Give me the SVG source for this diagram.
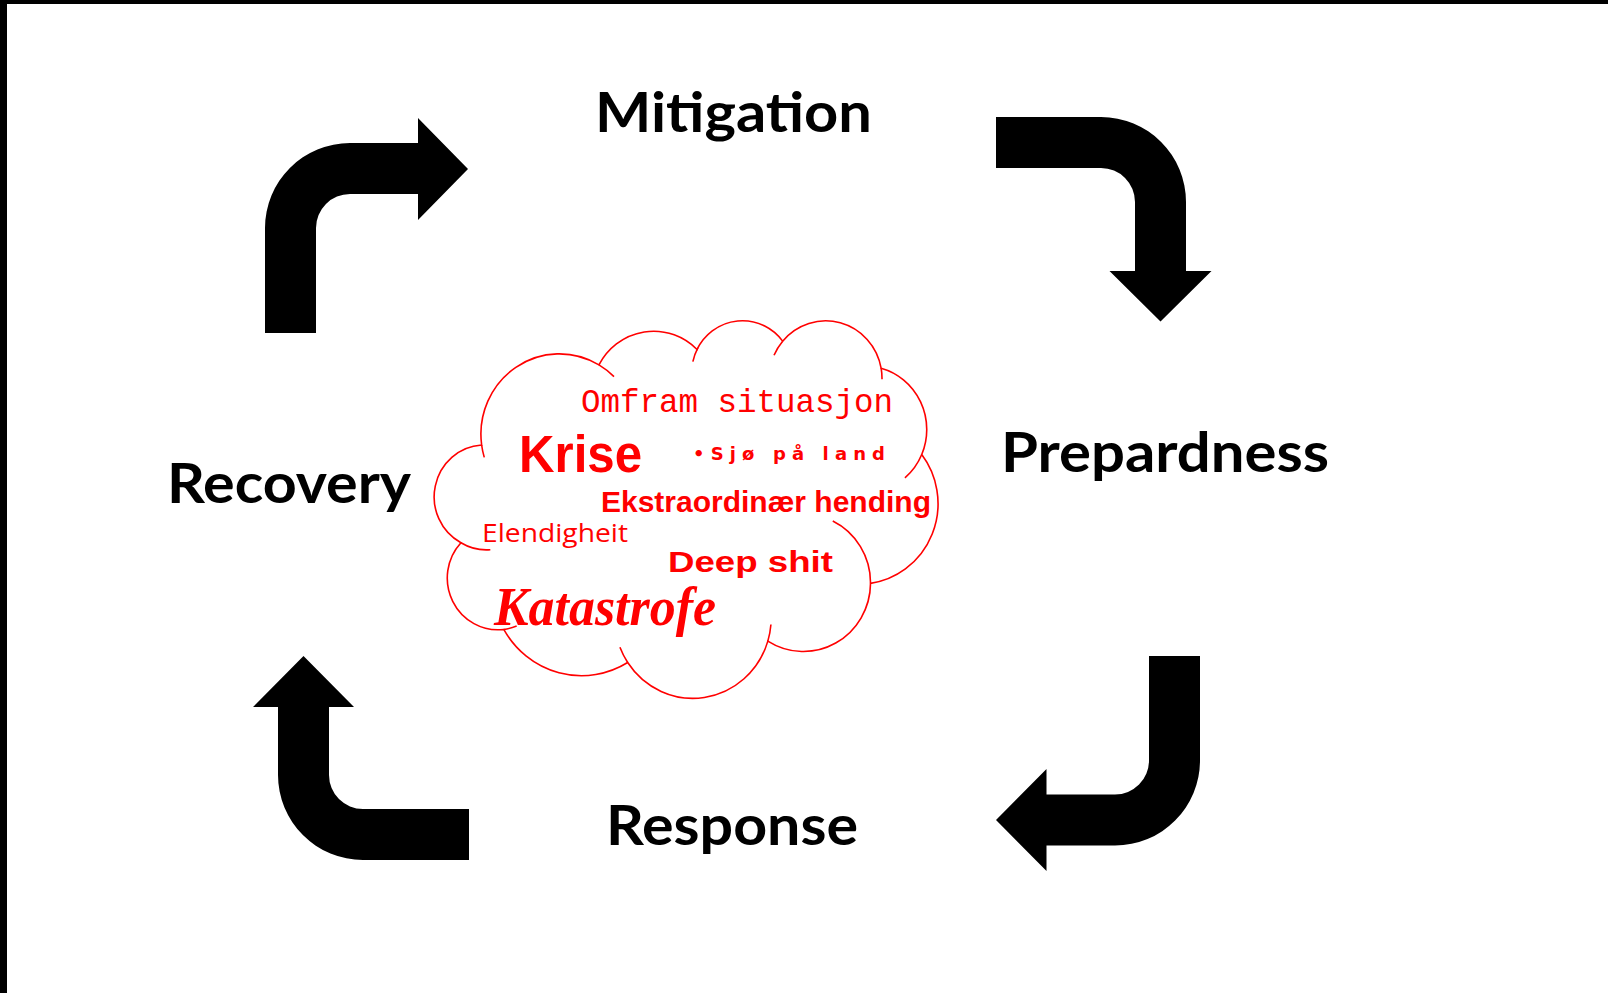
<svg xmlns="http://www.w3.org/2000/svg" width="1608" height="993" viewBox="0 0 1608 993">
<style>
.lbl{font-family:Lato,"Open Sans","Liberation Sans",sans-serif;font-weight:700;font-size:56px;fill:#000}
.arrow{fill:#000;stroke:none}
.cl{fill:none;stroke:#ff0000;stroke-width:1.6;vector-effect:non-scaling-stroke}
.red{fill:#ff0000}
</style>
<rect x="0" y="0" width="1608" height="993" fill="#fff"/>
<rect x="0" y="0" width="1608" height="4" fill="#000"/>
<rect x="0" y="0" width="7" height="993" fill="#000"/>

<g id="connectors">
  <path class="arrow" d="M265,333 L265,228 A85,85 0 0 1 350,143 L418,143 L418,118 L468,169 L418,220 L418,194 L350,194 A34,34 0 0 0 316,228 L316,333 Z"/>
  <path class="arrow" d="M996,117 L1101,117 A85,85 0 0 1 1186,202 L1186,271 L1211.5,271 L1160.5,321.5 L1109.5,271 L1135,271 L1135,202 A34,34 0 0 0 1101,168 L996,168 Z"/>
  <path class="arrow" d="M1149,656 L1200,656 L1200,760.5 A85,85 0 0 1 1115,845.5 L1046.5,845.5 L1046.5,871 L996,820 L1046.5,769 L1046.5,794.5 L1115,794.5 A34,34 0 0 0 1149,760.5 Z"/>
  <path class="arrow" d="M469,860 L363,860 A85,85 0 0 1 278,775 L278,707 L253,707 L303.5,656 L354,707 L329,707 L329,775 A34,34 0 0 0 363,809 L469,809 Z"/>
</g>

<g id="mitigation"><text class="lbl" x="595" y="131.7" textLength="277" lengthAdjust="spacingAndGlyphs">Mitigation</text></g>
<g id="preparedness"><text class="lbl" x="1001" y="471.7" textLength="328" lengthAdjust="spacingAndGlyphs">Prepardness</text></g>
<g id="recovery"><text class="lbl" x="167" y="503.3" textLength="244" lengthAdjust="spacingAndGlyphs">Recovery</text></g>
<g id="response"><text class="lbl" x="606" y="845" textLength="252" lengthAdjust="spacingAndGlyphs">Response</text></g>

<g id="cloud">
  <g transform="translate(436.37,319.46) scale(0.011606,0.008737)">
    <path d="M3900,14370 A6753,9190 0 0 1 14007.8,5203.6 A5333,7267 0 0 1 22459.3,3433.0 A4365,5945 0 0 1 29836.1,2481.3 A4857,6595 0 0 1 38320.5,5578.0 A5333,7273 0 0 1 41821.0,15461.8 A6775,9220 0 0 1 37407.5,30206.2 A5785,7867 0 0 1 28559.7,36817.0 A6752,9215 0 0 1 16484.1,39269.0 A7720,10543 0 0 1 5808.3,35477.1 A4360,5918 0 0 1 2117.1,25555.3 A4345,5945 0 0 1 3900,14370 Z" fill="#fff" stroke="#ff0000" stroke-width="1.6" vector-effect="non-scaling-stroke"/>
    <path class="cl" d="M4649.6,26352.1 A4345,5945 0 0 1 2117.1,25555.3 M6917.5,35095.3 A4360,5918 0 0 1 5808.3,35477.1 M16484.1,39269.0 A6752,9215 0 0 1 15815.9,37527.5 M28826.2,34908.5 A6752,9215 0 0 1 28559.7,36817.0 M34155.8,23070.4 A5785,7867 0 0 1 37407.5,30206.2 M41821.0,15461.8 A5333,7273 0 0 1 40371.8,18139.2 M38320.5,5578.0 A4857,6595 0 0 1 38396.9,6841.4 M29093.3,4095.1 A4857,6595 0 0 1 29836.1,2481.3 M22100.1,4823.1 A4365,5945 0 0 1 22530.6,3246.7 M14007.8,5203.6 A6753,9190 0 0 1 15305.2,6550.3 M4126.5,15786.9 A6753,9190 0 0 1 3900,14370"/>
  </g>
  <text class="red" x="581" y="411.7" font-family="'Liberation Mono',monospace" font-size="32.5">Omfram situasjon</text>
  <text class="red" x="519" y="471.7" font-family="'Liberation Sans',sans-serif" font-weight="700" font-size="51" textLength="123" lengthAdjust="spacingAndGlyphs">Krise</text>
  <text class="red" x="693" y="460" font-family="'DejaVu Sans',sans-serif" font-weight="700" font-size="18" textLength="192" lengthAdjust="spacing">•Sjø på land</text>
  <text class="red" x="601" y="511.7" font-family="'Liberation Sans',sans-serif" font-weight="700" font-size="30" textLength="330" lengthAdjust="spacingAndGlyphs">Ekstraordinær hending</text>
  <text class="red" x="482" y="541.7" font-family="'Open Sans',sans-serif" font-size="26" textLength="146" lengthAdjust="spacingAndGlyphs">Elendigheit</text>
  <text class="red" x="668" y="571.7" font-family="'Liberation Sans',sans-serif" font-weight="700" font-size="30" textLength="165" lengthAdjust="spacingAndGlyphs">Deep shit</text>
  <text class="red" x="494" y="625" font-family="'Liberation Serif',serif" font-style="italic" font-weight="700" font-size="54" textLength="222" lengthAdjust="spacingAndGlyphs">Katastrofe</text>
</g>
</svg>
